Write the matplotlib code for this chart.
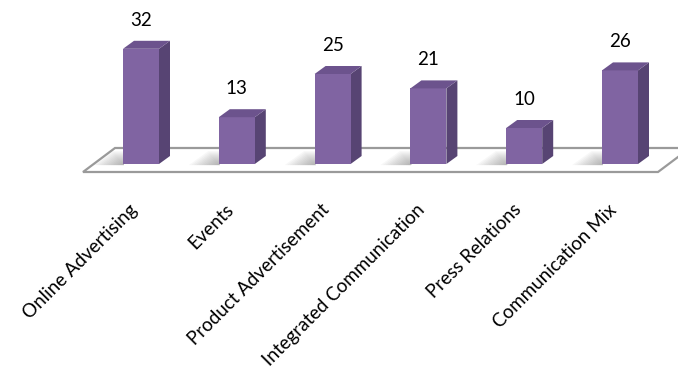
import matplotlib
matplotlib.use("Agg")
import matplotlib.pyplot as plt
from matplotlib.patches import Polygon
import numpy as np

categories = ["Online Advertising", "Events", "Product Advertisement",
              "Integrated Communication", "Press Relations", "Communication Mix"]
values = [32, 13, 25, 21, 10, 26]

W, H, DPI = 678, 376, 100
fig = plt.figure(figsize=(W / DPI, H / DPI), dpi=DPI)
ax = fig.add_axes([0, 0, 1, 1])
ax.set_axis_off()

# pixel mapping helpers (layout only)
px_per_cat = 95.8
px_per_unit = 3.6
x0_px = 141.0
base_px = 164.0
ax.set_xlim(-x0_px / px_per_cat, (W - x0_px) / px_per_cat)
ax.set_ylim((base_px - H) / px_per_unit, base_px / px_per_unit)

front_c = "#8064A2"
side_c = "#574473"
top_c = "#6C538D"

bw = 36 / px_per_cat
ddx = 11 / px_per_cat
ddy = 8 / px_per_unit

# floor
fy_back = (base_px - 148) / px_per_unit
fy_front = (base_px - 172) / px_per_unit
fl = [((83 - x0_px) / px_per_cat, fy_front), ((115 - x0_px) / px_per_cat, fy_back),
      ((690 - x0_px) / px_per_cat, fy_back), ((658 - x0_px) / px_per_cat, fy_front)]
ax.add_patch(Polygon(fl, closed=True, facecolor="white", edgecolor="#9a9a9a",
                     linewidth=1.6, zorder=1))

x = np.arange(len(values))

# soft shadows on the floor, to the left of each bar (layered translucent shapes)
sh_w = 30 / px_per_cat
sh_h = 14 / px_per_unit
y0 = -0.3
nl = 12
for xi in x:
    left = xi - bw / 2
    for k in range(nl):
        s = 1 - k / nl
        shp = [(left - sh_w * s, y0), (left - sh_w * s * 0.35, y0 + sh_h * s),
               (left + 0.01, y0 + sh_h * s), (left + 0.01, y0)]
        ax.add_patch(Polygon(shp, closed=True, facecolor="#5a5a5a",
                             edgecolor="none", alpha=0.045, zorder=2))

bars = ax.bar(x, values, width=bw, bottom=0, color=front_c, edgecolor="none", zorder=4)
for b, v in zip(bars, values):
    l = b.get_x()
    r = l + b.get_width()
    side = [(r, 0), (r + ddx, ddy), (r + ddx, v + ddy), (r, v)]
    top = [(l, v), (l + ddx, v + ddy), (r + ddx, v + ddy), (r, v)]
    ax.add_patch(Polygon(side, closed=True, facecolor=side_c, edgecolor="none", zorder=3))
    ax.add_patch(Polygon(top, closed=True, facecolor=top_c, edgecolor="none", zorder=5))
    ax.annotate(str(v), (b.get_x() + b.get_width() / 2, v), xytext=(0, 14.5),
                textcoords="offset points", ha="center", va="bottom",
                fontsize=13.5, family="Lato", color="black", zorder=6)

# category labels (rotated, anchored at their upper-right end)
lab_y = (base_px - 201) / px_per_unit
for xi, c in zip(x, categories):
    ax.text(xi - 12 / px_per_cat, lab_y, c, rotation=45, rotation_mode="anchor",
            ha="right", va="top", fontsize=13.5, family="Lato", color="black")

fig.savefig("out.png", dpi=DPI)
